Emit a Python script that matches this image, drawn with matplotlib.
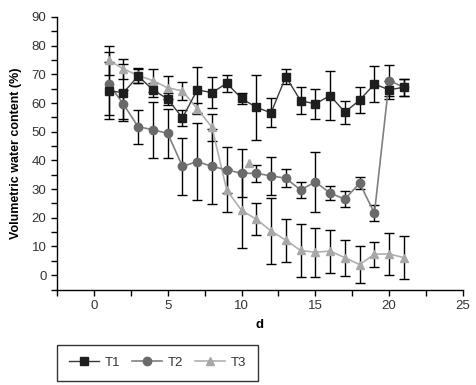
import numpy as np
import matplotlib
matplotlib.use("Agg")
import matplotlib.pyplot as plt
from matplotlib.ticker import MultipleLocator

plt.rcParams['font.family'] = ['Liberation Sans', 'DejaVu Sans']

days = np.arange(1, 22)

t1 = [64.3, 63.6, 69.4, 64.6, 61.4, 54.8, 64.6, 63.6, 66.9, 61.6, 58.5,
      56.6, 69.2, 60.8, 59.7, 62.6, 56.8, 61.0, 66.6, 64.6, 65.5]
t1_err = [10, 10, 2.5, 2.5, 2, 2.7, 8, 5.5, 3, 2, 11.4,
          5, 2.6, 4.7, 5.2, 8.6, 4, 4.5, 6.3, 3.2, 3]

t2 = [66.7, 59.6, 51.7, 50.7, 49.4, 37.9, 39.6, 37.9, 36.7, 35.5, 35.5,
      34.6, 33.8, 29.7, 32.5, 28.6, 26.5, 32.1, 21.6, 67.8, 65.5]
t2_err = [11, 5, 6, 9.7, 8.5, 10, 13.5, 13.2, 8, 8.4, 3,
          6.5, 3.2, 2.8, 10.5, 2.4, 2.7, 2, 2.8, 5.3, 3]

t3 = [74.9, 71.9, 69.6, 67.8, 65.3, 64.2, 58.0, 51.5, 29.6, 22.6, 19.5,
      15.4, 12.2, 8.6, 8.0, 8.4, 6.1, 3.7, 7.3, 7.4, 6.1]
t3_err = [5, 3.5, 2.5, 4, 4, 3, 2, 4.7, 7.5, 13.3, 5.5,
          11.5, 7.5, 9.3, 8.6, 7.5, 6.3, 6.3, 4.3, 7.3, 7.6]

# lone T3 point sitting off the line
t3_extra_x = [10.5]
t3_extra_y = [39]

fig = plt.figure(figsize=(4.76, 3.85), dpi=100)
ax = fig.add_axes([0.1197, 0.248, 0.853, 0.708])

ekw = dict(ecolor='black', elinewidth=1, capsize=3.5, capthick=1)
ax.errorbar(days, t1, yerr=t1_err, fmt='none', zorder=2, **ekw)
ax.errorbar(days, t2, yerr=t2_err, fmt='none', zorder=2, **ekw)
ax.errorbar(days, t3, yerr=t3_err, fmt='none', zorder=2, **ekw)

ax.plot(days, t3, color='#b0b0b0', lw=1.2, marker='^', ms=6,
        mfc='#a8a8a8', mec='#a8a8a8', label='T3', zorder=3)
ax.plot(t3_extra_x, t3_extra_y, ls='none', marker='^', ms=6,
        mfc='#a8a8a8', mec='#a8a8a8', zorder=3)
ax.plot(days, t2, color='#808080', lw=1.2, marker='o', ms=6,
        mfc='#6a6a6a', mec='#6a6a6a', label='T2', zorder=4)
ax.plot(days, t1, color='#3a3a3a', lw=1, marker='s', ms=6,
        mfc='#1e1e1e', mec='#1e1e1e', label='T1', zorder=5)

ax.set_xlim(-2.5, 25)
ax.set_ylim(-5, 90)
ax.xaxis.set_major_locator(MultipleLocator(5))
ax.xaxis.set_minor_locator(MultipleLocator(2.5))
ax.yaxis.set_major_locator(MultipleLocator(10))
ax.yaxis.set_minor_locator(MultipleLocator(5))
ax.tick_params(which='both', direction='out', color='black', width=1)
ax.tick_params(which='major', length=4, labelsize=9.5, labelcolor='#333333')
ax.tick_params(which='minor', length=4)
ax.set_yticks(np.arange(0, 91, 10))

for s in ['top', 'right']:
    ax.spines[s].set_visible(False)
for s in ['left', 'bottom']:
    ax.spines[s].set_linewidth(1)

ax.set_xlabel('d', fontsize=9.5, fontweight='bold', labelpad=5)
ax.set_ylabel('Volumetric water content (%)', fontsize=9, fontweight='bold', labelpad=7)

h, l = ax.get_legend_handles_labels()
order = [l.index('T1'), l.index('T2'), l.index('T3')]
leg = fig.legend([h[i] for i in order], [l[i] for i in order],
                 loc='upper left', bbox_to_anchor=(0.12, 0.104), ncol=3,
                 fontsize=9.5, frameon=True, fancybox=False, edgecolor='black',
                 handlelength=2.3, columnspacing=0.9, handletextpad=0.4,
                 borderpad=0.9, borderaxespad=0)
leg.get_frame().set_linewidth(1)
for t in leg.get_texts():
    t.set_color('#333333')

fig.savefig('out.png', dpi=100)
